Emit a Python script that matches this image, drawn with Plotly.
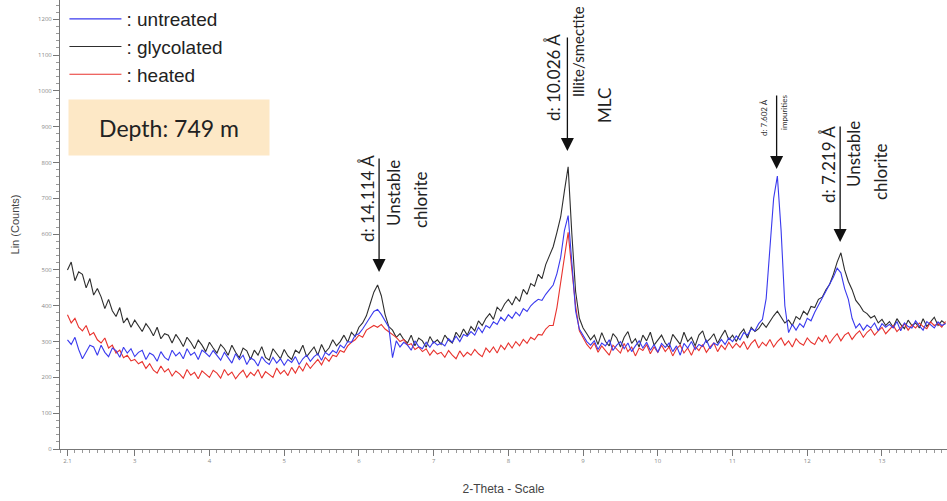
import numpy as np
import plotly.graph_objects as go

# Scan grid (2-Theta), step 0.05
theta_start = 2.10
theta_step = 0.05

glycolated = [
    500, 522, 470, 495, 488, 450, 476, 430, 448, 425, 392, 418, 386, 370, 395, 352, 366, 340, 360, 344,
    328, 350, 336, 316, 340, 308, 322, 318, 296, 320, 305, 286, 312, 298, 280, 304, 290, 272, 298, 282,
    268, 292, 280, 262, 290, 270, 255, 282, 274, 250, 276, 262, 286, 256, 248, 280, 266, 252, 278, 260,
    250, 276, 268, 290, 258, 272, 285, 262, 292, 270, 282, 305, 288, 300, 318, 298, 326, 314, 340, 352,
    372, 405, 438, 458, 428, 376, 342, 332, 312, 322, 306, 296, 318, 288, 310, 302, 284, 314, 296, 305,
    292, 318, 304, 296, 326, 312, 335, 318, 342, 330, 358, 345, 365, 378, 362, 396, 385, 405, 418, 402,
    425, 412, 446, 432, 462, 455, 488, 476, 515, 540, 565, 605, 648, 720, 788, 600, 440, 365, 338, 322,
    305, 318, 292, 325, 300, 288, 322, 310, 285, 312, 328, 295, 308, 285, 318, 302, 326, 290, 305, 318,
    296, 284, 320, 305, 292, 326, 300, 312, 288, 318, 330, 298, 308, 322, 295, 315, 332, 305, 318, 300,
    322, 335, 310, 340, 328, 336, 352, 340, 358, 372, 385, 368, 352, 360, 345, 370, 362, 385, 375, 398,
    395, 418, 424, 445, 460, 488, 522, 548, 500, 468, 445, 415, 402, 385, 378, 366, 372, 352, 362, 345,
    356, 340, 364, 348, 336, 360, 345, 352, 338, 364, 342, 355, 368, 345, 358, 350,
]

untreated = [
    305, 292, 312, 278, 252, 272, 290, 285, 262, 290, 270, 258, 282, 275, 256, 284, 268, 280, 258, 270,
    276, 250, 268, 262, 245, 272, 256, 248, 276, 260, 270, 252, 280, 262, 270, 250, 276, 268, 258, 275,
    262, 248, 270, 255, 240, 266, 250, 262, 236, 255, 248, 232, 258, 244, 236, 256, 240, 252, 234, 250,
    242, 258, 236, 252, 262, 245, 258, 266, 248, 270, 262, 275, 268, 290, 282, 300, 298, 318, 322, 335,
    350, 368, 384, 390, 376, 358, 340, 255, 302, 285, 298, 290, 276, 302, 286, 280, 298, 284, 300, 290,
    296, 288, 308, 298, 315, 300, 320, 315, 328, 318, 340, 325, 345, 338, 355, 348, 368, 358, 375, 365,
    382, 372, 392, 384, 400, 410, 418, 415, 432, 445, 458, 490, 535, 610, 652, 520, 385, 335, 318, 300,
    290, 302, 278, 296, 288, 305, 275, 290, 300, 280, 296, 272, 288, 302, 282, 298, 276, 292, 270, 295,
    284, 296, 272, 288, 262, 295, 282, 300, 278, 292, 286, 305, 280, 296, 290, 306, 292, 310, 300, 316,
    305, 325, 318, 335, 330, 350, 362, 420, 560, 700, 762, 610, 400, 325, 348, 332, 350, 340, 365, 358,
    382, 402, 422, 440, 458, 480, 505, 492, 448, 418, 365, 338, 350, 332, 346, 338, 352, 330, 350, 340,
    348, 338, 356, 330, 352, 342, 338, 358, 344, 332, 356, 346, 338, 355, 345, 350,
]

heated = [
    375, 352, 365, 340, 330, 345, 318, 325, 305, 296, 310, 282, 290, 268, 276, 255, 262, 246, 250, 238,
    244, 225, 238, 220, 212, 232, 215, 224, 204, 218, 210, 198, 222, 206, 214, 196, 218, 210, 200, 220,
    212, 198, 222, 206, 215, 196, 210, 220, 200, 214, 205, 222, 198, 216, 208, 200, 226, 210, 220, 205,
    228, 212, 232, 218, 240, 225, 238, 250, 235, 256, 245, 262, 258, 275, 270, 288, 298, 305, 318, 312,
    332, 338, 345, 340, 348, 335, 328, 320, 312, 300, 306, 290, 294, 278, 285, 272, 280, 262, 276, 265,
    270, 256, 275, 262, 252, 274, 258, 270, 262, 278, 266, 258, 282, 270, 285, 268, 290, 278, 296, 282,
    300, 288, 306, 295, 312, 305, 320, 318, 335, 345, 345, 395, 470, 545, 605, 500, 400, 330, 310, 292,
    280, 296, 270, 288, 275, 262, 290, 278, 268, 295, 272, 285, 260, 282, 275, 292, 266, 285, 270, 290,
    272, 285, 260, 280, 290, 268, 282, 262, 286, 275, 292, 270, 285, 296, 272, 290, 278, 298, 282, 295,
    284, 300, 278, 295, 305, 282, 298, 288, 306, 285, 300, 310, 290, 302, 285, 308, 296, 290, 310, 298,
    292, 312, 300, 318, 295, 310, 322, 302, 318, 325, 306, 320, 330, 312, 326, 335, 318, 330, 340, 322,
    335, 345, 328, 340, 350, 332, 346, 338, 352, 342, 336, 355, 345, 350, 340, 356,
]

x_tick_vals = [2.1, 3, 4, 5, 6, 7, 8, 9, 10, 11, 12, 13]
x_tick_text = ["2.1", "3", "4", "5", "6", "7", "8", "9", "10", "11", "12", "13"]
y_tick_vals = list(range(0, 1300, 100))

assert len(glycolated) == len(untreated) == len(heated)
n = len(glycolated)
theta = np.round(theta_start + theta_step * np.arange(n), 2)

fig = go.Figure()
fig.add_trace(go.Scatter(x=theta, y=glycolated, mode="lines", name=": glycolated",
                         line=dict(color="#2e2e2e", width=1.1), legendrank=2))
fig.add_trace(go.Scatter(x=theta, y=heated, mode="lines", name=": heated",
                         line=dict(color="#e8332e", width=1.1), legendrank=3))
fig.add_trace(go.Scatter(x=theta, y=untreated, mode="lines", name=": untreated",
                         line=dict(color="#3a3aee", width=1.1), legendrank=1))

txt_font = dict(family="Lato, Open Sans, sans-serif", size=17, color="#222")
narrow_font = dict(family="Lato, Open Sans, sans-serif", size=15, color="#222")
small_font = dict(family="Lato, Open Sans, sans-serif", size=8, color="#333")

PLOT_L, PLOT_W, PLOT_H = 60, 887, 449
annotations = []


def marker(x, y, ay):
    annotations.append(dict(x=x, y=y, xref="x", yref="y", text="", showarrow=True,
                            ax=0, ay=ay, arrowhead=2, arrowsize=2.0, arrowwidth=1.3,
                            arrowcolor="#111"))


def label(px, py, text, font):
    # px, py in figure pixels converted to paper coords
    annotations.append(dict(x=(px - PLOT_L) / PLOT_W, y=1 - py / PLOT_H, xref="paper", yref="paper",
                            text=text, showarrow=False, textangle=-90, font=font,
                            xanchor="center", yanchor="middle"))


# peak markers
marker(6.27, 494, -115)
marker(8.79, 832, -115)
marker(11.59, 782, -75)
marker(12.44, 578, -117)

label(367, 199, "d: 14.114 Å", txt_font)
label(393, 193, "Unstable", txt_font)
label(420, 200, "chlorite", txt_font)

label(553, 78, "d: 10.026 Å", txt_font)
label(578, 52, "Illite/smectite", narrow_font)
label(604, 106, "MLC", txt_font)

label(764, 118, "d: 7.602 Å", small_font)
label(784, 113, "impurities", small_font)

label(828, 165, "d: 7.219 Å", txt_font)
label(853, 154, "Unstable", txt_font)
label(880, 172, "chlorite", txt_font)

annotations.append(dict(x=(169 - PLOT_L) / PLOT_W, y=1 - 127 / PLOT_H, xref="paper", yref="paper",
                        text="Depth: 749 m", showarrow=False, bgcolor="#fde8c6",
                        width=198, height=53, xanchor="center", yanchor="middle",
                        font=dict(family="Lato, Open Sans, sans-serif", size=23, color="#222")))

fig.update_layout(
    width=947, height=501,
    margin=dict(l=60, r=0, t=0, b=52),
    paper_bgcolor="white", plot_bgcolor="white",
    showlegend=True,
    legend=dict(x=0.005, y=1.0, xanchor="left", yanchor="top", bgcolor="rgba(0,0,0,0)",
                font=dict(family="Liberation Sans, Arial, sans-serif", size=19, color="#222"),
                itemwidth=52, tracegroupgap=0),
    annotations=annotations,
    xaxis=dict(range=[2.0, 13.87], tickvals=x_tick_vals, ticktext=x_tick_text,
               showgrid=False, zeroline=False, showline=True, linecolor="#777", linewidth=1,
               ticks="outside", ticklen=6, tickcolor="#777",
               tickfont=dict(size=6, color="#888"),
               minor=dict(dtick=0.1, tick0=2.0, ticks="outside", ticklen=3, tickcolor="#999"),
               title=dict(text="2-Theta - Scale", font=dict(family="Liberation Sans, Arial", size=12, color="#444"),
                          standoff=20)),
    yaxis=dict(range=[0, 1254], tickvals=y_tick_vals,
               showgrid=False, zeroline=False, showline=True, linecolor="#777", linewidth=1,
               ticks="outside", ticklen=6, tickcolor="#777",
               tickfont=dict(size=6, color="#888"),
               minor=dict(dtick=20, ticks="outside", ticklen=3, tickcolor="#999"),
               title=dict(text="Lin (Counts)", font=dict(family="Liberation Sans, Arial", size=11, color="#444"),
                          standoff=16)),
)

fig.write_html("out.html")
